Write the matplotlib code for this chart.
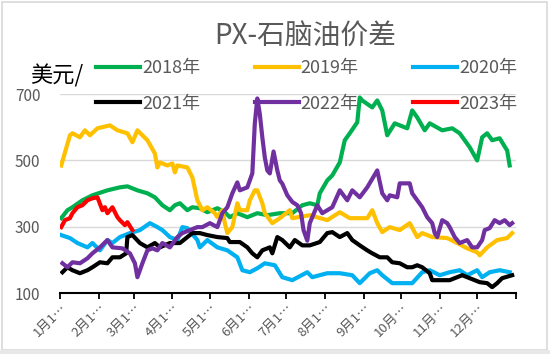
import matplotlib
matplotlib.use("Agg")
import matplotlib.pyplot as plt
from matplotlib.patches import Rectangle
import matplotlib.transforms as mtransforms

plt.rcParams['font.family'] = ['Noto Sans CJK SC', 'DejaVu Sans']

# day of year / value (USD per tonne)
d2018 = [1, 6, 10, 18, 26, 38, 48, 54, 62, 70, 76, 82, 88, 92, 96, 102, 106, 112, 118, 126,
         132, 136, 142, 150, 158, 166, 176, 186, 194, 200, 206, 208, 214, 218, 224, 228, 232, 238, 240, 242,
         250, 254, 258, 262, 268, 278, 282, 286, 292, 296, 306, 314, 320, 328, 334, 338, 342, 346, 352, 358, 360]
v2018 = [326, 350, 359, 380, 395, 410, 419, 422, 410, 401, 389, 365, 350, 365, 371, 350, 359, 356, 344, 356,
         344, 329, 341, 329, 341, 335, 341, 341, 365, 371, 365, 401, 440, 455, 494, 561, 582, 615, 690, 681,
         660, 681, 651, 576, 612, 597, 651, 630, 591, 612, 591, 597, 582, 540, 500, 570, 582, 561, 567, 530, 485]

d2019 = [1, 8, 10, 16, 20, 24, 30, 40, 46, 54, 58, 62, 70, 76, 78, 80, 86, 90, 92, 94,
         102, 106, 110, 114, 118, 124, 126, 130, 132, 134, 138, 142, 144, 150, 152, 156, 158, 162, 164, 170,
         176, 184, 186, 200, 214, 224, 232, 246, 250, 254, 258, 264, 272, 280, 286, 290, 298, 310, 318, 326,
         334, 336, 342, 350, 358, 362]
v2019 = [485, 576, 582, 570, 591, 576, 597, 606, 591, 582, 555, 591, 561, 521, 479, 494, 485, 491, 464, 485,
         479, 449, 380, 350, 359, 341, 329, 350, 311, 281, 299, 371, 350, 350, 380, 410, 410, 371, 341, 311,
         326, 350, 326, 335, 320, 344, 326, 326, 350, 311, 284, 299, 290, 311, 269, 281, 269, 266, 251, 235,
         223, 214, 238, 260, 266, 281]

d2020 = [1, 8, 14, 22, 26, 32, 38, 42, 48, 56, 64, 72, 78, 82, 88, 94, 98, 102, 110, 112,
         118, 126, 134, 142, 146, 152, 158, 164, 172, 178, 186, 198, 202, 214, 224, 234, 240, 248, 254, 258,
         266, 278, 282, 290, 296, 304, 312, 320, 326, 334, 338, 344, 352, 360]
v2020 = [275, 266, 251, 238, 251, 229, 260, 251, 269, 281, 290, 311, 299, 290, 269, 260, 299, 296, 260, 238,
         260, 238, 229, 208, 169, 163, 175, 190, 184, 148, 139, 163, 148, 160, 160, 154, 130, 160, 169, 154,
         130, 130, 130, 163, 169, 154, 163, 169, 154, 169, 148, 163, 169, 163]

d2021 = [2, 6, 10, 16, 22, 26, 32, 38, 42, 48, 53, 54, 58, 64, 70, 76, 80, 88, 96, 102,
         106, 112, 118, 126, 134, 136, 144, 150, 154, 158, 162, 168, 170, 174, 178, 184, 188, 194, 200, 208,
         214, 218, 224, 230, 234, 240, 246, 250, 256, 262, 266, 272, 278, 282, 286, 290, 296, 298, 304, 312,
         318, 322, 328, 336, 342, 346, 350, 354, 362]
v2021 = [163, 178, 169, 160, 169, 178, 193, 190, 208, 208, 220, 269, 275, 251, 238, 251, 238, 251, 251, 269,
         281, 281, 275, 269, 266, 254, 254, 238, 220, 208, 229, 238, 220, 269, 260, 238, 260, 244, 244, 254,
         281, 284, 269, 281, 260, 244, 229, 220, 208, 208, 193, 190, 178, 178, 184, 178, 160, 139, 139, 139,
         148, 154, 145, 133, 130, 118, 130, 145, 154]

d2022 = [2, 6, 10, 16, 22, 26, 32, 38, 42, 50, 56, 60, 62, 66, 70, 74, 78, 82, 88, 94,
         98, 104, 110, 114, 120, 126, 130, 134, 138, 142, 144, 150, 154, 156, 158, 160, 162, 164, 166, 168,
         171, 174, 176, 178, 182, 186, 190, 193, 195, 198, 200, 202, 206, 210, 214, 218, 224, 230, 234, 240,
         246, 254, 258, 262, 264, 270, 272, 280, 282, 286, 290, 294, 298, 300, 302, 306, 310, 312, 316, 320,
         326, 330, 334, 338, 340, 344, 348, 352, 356, 360, 362]
v2022 = [190, 178, 193, 190, 205, 220, 238, 260, 238, 235, 220, 190, 148, 190, 229, 235, 229, 251, 238, 269,
         281, 290, 299, 299, 311, 299, 341, 359, 401, 434, 410, 419, 461, 612, 687, 640, 570, 509, 470, 461,
         527, 470, 440, 430, 395, 375, 365, 341, 290, 258, 311, 329, 365, 341, 350, 359, 410, 380, 410, 389,
         419, 470, 401, 380, 395, 389, 431, 431, 401, 380, 359, 329, 311, 281, 269, 320, 311, 299, 269, 251,
         260, 238, 238, 260, 290, 296, 320, 311, 320, 305, 311]

d2023 = [1, 4, 8, 10, 14, 18, 22, 26, 30, 34, 36, 38, 42, 46, 48, 52, 54, 58]
v2023 = [299, 320, 326, 341, 359, 365, 380, 386, 389, 350, 359, 341, 359, 329, 320, 305, 314, 290]

years = ['2018年', '2019年', '2020年', '2021年', '2022年', '2023年']
colors = ['#00b050', '#ffc000', '#00b0f0', '#000000', '#7030a0', '#ff0000']
month_starts = [0, 31, 59, 90, 120, 151, 181, 212, 243, 273, 304, 334, 365]
month_labels = ['1月1…', '2月1…', '3月1…', '4月1…', '5月1…', '6月1…',
                '7月1…', '8月1…', '9月1…', '10月…', '11月…', '12月…']

fig = plt.figure(figsize=(5.5, 3.54), dpi=100)
ax = fig.add_axes([0.109, 0.172, 0.829, 0.562])

series = [(d2018, v2018), (d2019, v2019), (d2020, v2020),
          (d2021, v2021), (d2022, v2022), (d2023, v2023)]
lines = []
for (d, v), name, c in zip(series, years, colors):
    ln, = ax.plot(d, v, color=c, lw=3, label=name, solid_joinstyle='round', zorder=3)
    lines.append(ln)

ax.set_xlim(0, 365)
ax.set_ylim(100, 700)
ax.set_yticks([100, 300, 500, 700])
ax.set_xticks(month_starts)
ax.set_xticklabels(month_labels + [''], rotation=45, ha='right', rotation_mode='anchor',
                   fontsize=9.5, color='#595959')
offset = mtransforms.ScaledTranslation(6 / 100, -4 / 100, fig.dpi_scale_trans)
for lab in ax.get_xticklabels():
    lab.set_transform(lab.get_transform() + offset)

ax.tick_params(axis='y', length=0, labelsize=11, labelcolor='#595959', pad=14)
ax.tick_params(axis='x', length=4, width=1.3, color='black', direction='out', pad=2)
ax.grid(axis='y', color='#d9d9d9', lw=1)
ax.set_axisbelow(True)
for s in ['top', 'right', 'left']:
    ax.spines[s].set_visible(False)
ax.spines['bottom'].set_linewidth(1.5)
ax.spines['bottom'].set_zorder(4)

order = [0, 3, 1, 4, 2, 5]
leg = ax.legend([lines[i] for i in order], [years[i] for i in order], ncol=3,
                loc='upper left', bbox_to_anchor=(0.175, 0.832), bbox_transform=fig.transFigure,
                frameon=False, fontsize=13, handlelength=2.45, handletextpad=0.1,
                columnspacing=3.0, labelspacing=0.95, borderpad=0, borderaxespad=0)
for t in leg.get_texts():
    t.set_color('#595959')
leg.set_zorder(1)

fig.text(0.555, 0.897, 'PX-石脑油价差', ha='center', va='center', fontsize=20, color='#595959')
fig.text(0.104, 0.785, '美元/', ha='center', va='center', fontsize=16, color='black')

fig.patches.append(Rectangle((0.004, 0.012), 0.99, 0.982, transform=fig.transFigure,
                             fill=False, edgecolor='#d9d9d9', lw=1.2))
fig.patches.append(Rectangle((0, 0), 1, 0.01, transform=fig.transFigure,
                             color='#e8e8e8', lw=0))

fig.savefig('out.png', dpi=100)
